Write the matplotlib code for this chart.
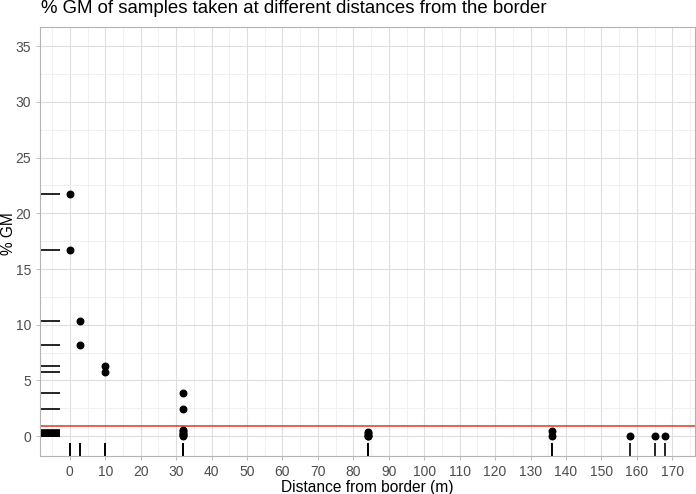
import matplotlib.pyplot as plt
import numpy as np

plt.rcParams['font.family'] = ['Liberation Sans', 'DejaVu Sans']

# distance from border (m) and % GM for each sample
distance = [0, 0, 3, 3, 10, 10,
            32, 32, 32, 32, 32, 32, 32, 32,
            84, 84, 84, 84, 84,
            136, 136, 158, 165, 168]
gm = [21.7, 16.7, 10.3, 8.2, 6.3, 5.8,
      3.9, 2.4, 0.6, 0.45, 0.3, 0.2, 0.1, 0.0,
      0.35, 0.25, 0.15, 0.05, 0.0,
      0.5, 0.0, 0.05, 0.0, 0.0]
threshold = 0.9

x = np.array(distance)
y = np.array(gm)

fig = plt.figure(figsize=(6.96, 4.94), dpi=100)
ax = fig.add_axes([0.0575, 0.0775, 0.9411, 0.8685])

ax.set_xlim(-8.4, 176.4)
ax.set_ylim(-1.75, 36.75)

ax.set_xticks(np.arange(0, 171, 10))
ax.set_xticks(np.arange(-5, 176, 10), minor=True)
ax.set_yticks(np.arange(0, 36, 5))
ax.set_yticks(np.arange(2.5, 36, 5), minor=True)
ax.grid(which='major', color='#dedede', linewidth=0.8)
ax.grid(which='minor', color='#eeeeee', linewidth=0.6)
ax.set_axisbelow(True)

for s in ax.spines.values():
    s.set_color('#b3b3b3')
    s.set_linewidth(0.8)
ax.tick_params(which='major', colors='#b3b3b3', length=3, width=0.6,
               labelcolor='#4d4d4d', labelsize=10)
ax.tick_params(which='minor', length=0)

# rugs
ax.vlines(x, 0, 0.03, transform=ax.get_xaxis_transform(), color='black', linewidth=1.2)
ax.hlines(y, 0, 0.03, transform=ax.get_yaxis_transform(), color='black', linewidth=1.2)

ax.axhline(threshold, color='#e8302a', linewidth=1.1)
ax.scatter(x, y, s=22, color='black', zorder=3)

ax.set_xlabel('Distance from border (m)', fontsize=11.2, labelpad=1)
ax.set_ylabel('% GM', fontsize=11.2)
ax.yaxis.set_label_coords(-0.036, 0.517)
fig.text(0.059, 0.982, '% GM of samples taken at different distances from the border',
         fontsize=13.4, va='center', ha='left')

fig.savefig('out.png', dpi=100)
